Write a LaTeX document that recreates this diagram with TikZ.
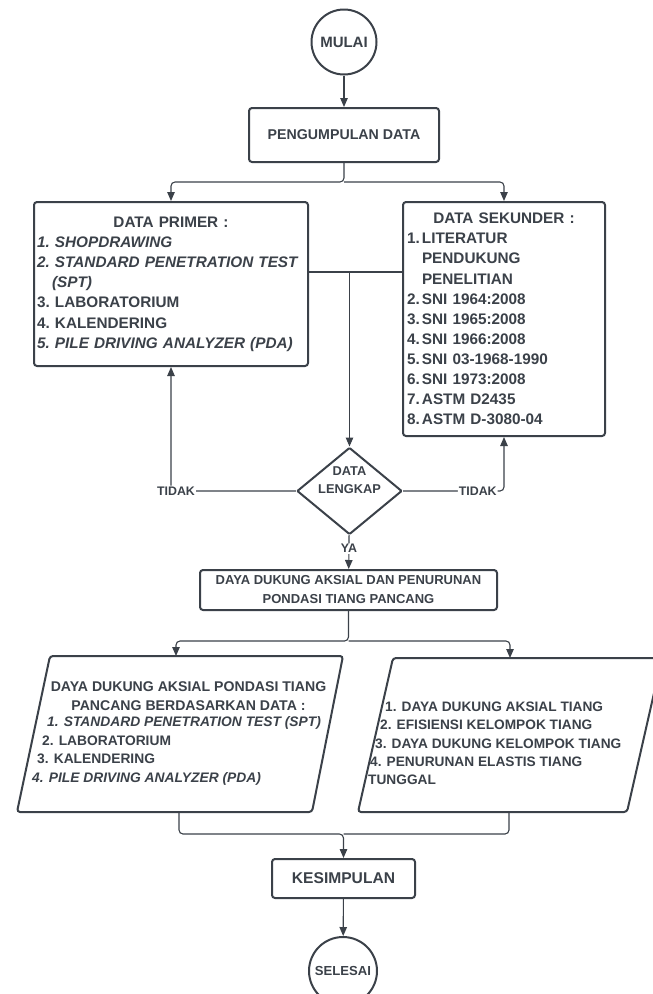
\documentclass[tikz,border=0pt]{standalone}
\usepackage{fontspec}
\setmainfont{Liberation Sans}
\usetikzlibrary{arrows.meta,shapes.geometric}
\definecolor{ink}{HTML}{3B4149}
\newcommand{\fsz}[2]{\fontsize{#1}{#2}\selectfont}
\newcommand{\itm}[3]{\makebox[#1][l]{#2}#3}

\begin{document}
\begin{tikzpicture}[x=1pt, y=-1pt, draw=ink, text=ink, font=\bfseries,
	shp/.style={draw, line width=2pt, rounded corners=3pt, fill=white},
	term/.style={shp, circle, minimum size=#1, inner sep=0pt},
	proc/.style={shp, rectangle, align=center},
	conn/.style={line width=1.1pt, rounded corners=4pt},
	arr/.style={conn, -{Triangle[length=9pt,width=7.5pt]}},
	lbl/.style={fill=white, inner sep=1pt, font=\bfseries\fsz{12.4}{14}}]
	\useasboundingbox (0,0) rectangle (653,994);

	\node[term=65pt, font=\bfseries\fsz{15}{18}] (mulai) at (344,42) {MULAI};
	\node[proc, minimum width=190pt, minimum height=54pt, font=\bfseries\fsz{14.2}{17}] (kumpul) at (344,135) {PENGUMPULAN DATA};
	\node[proc, align=left, text width=268pt, inner xsep=3pt, minimum height=164pt, font=\bfseries\fsz{15.3}{20.2}] (primer) at (171,284)
		{\makebox[\linewidth]{DATA PRIMER :}\\
		 \itm{18pt}{\textit{1.}}{\textit{SHOPDRAWING}}\\
		 \itm{18pt}{\textit{2.}}{\textit{STANDARD PENETRATION TEST}}\\
		 \hspace*{15pt}\textit{(SPT)}\\
		 \itm{18pt}{3.}{LABORATORIUM}\\
		 \itm{18pt}{4.}{KALENDERING}\\
		 \itm{18pt}{\textit{5.}}{\textit{PILE DRIVING ANALYZER (PDA)}}};
	\node[proc, align=left, text width=194pt, inner xsep=4pt, minimum height=234pt, font=\bfseries\fsz{15.3}{20.1}] (sekunder) at (504,319)
		{\makebox[\linewidth]{DATA SEKUNDER :}\\
		 \itm{15pt}{1.}{LITERATUR}\\
		 \hspace*{15pt}PENDUKUNG\\
		 \hspace*{15pt}PENELITIAN\\
		 \itm{15pt}{2.}{SNI 1964:2008}\\
		 \itm{15pt}{3.}{SNI 1965:2008}\\
		 \itm{15pt}{4.}{SNI 1966:2008}\\
		 \itm{15pt}{5.}{SNI 03-1968-1990}\\
		 \itm{15pt}{6.}{SNI 1973:2008}\\
		 \itm{15pt}{7.}{ASTM D2435}\\
		 \itm{15pt}{8.}{ASTM D-3080-04}};
	\node[shp, diamond, rounded corners=1pt, minimum width=105pt, minimum height=87pt, inner sep=0pt] (lengkap) at (349.5,491) {};
	\node[align=center, font=\bfseries\fsz{12.8}{18.5}] (lengkapTeks) at (349.5,480) {DATA\\LENGKAP};
	\node[proc, minimum width=297pt, minimum height=40pt, font=\bfseries\fsz{13}{19}] (daya) at (348.5,590) {DAYA DUKUNG AKSIAL DAN PENURUNAN\\PONDASI TIANG PANCANG};

	\draw[shp] (50,656) -- (343,656) -- (312,812) -- (17,812) -- cycle;
	\draw[shp] (393,658) -- (662,658) -- (627,812) -- (358,812) -- cycle;
	\coordinate (hasilAN) at (176,656);
	\coordinate (hasilAS) at (179,812);
	\coordinate (hasilBN) at (510,658);
	\coordinate (hasilBS) at (509,812);
	\node[align=center, font=\bfseries\fsz{14.1}{18.3}] (hasilAJudul) at (188.5,696) {DAYA DUKUNG AKSIAL PONDASI TIANG\\PANCANG BERDASARKAN DATA :};
	\node[align=left, anchor=west, inner sep=0pt, font=\bfseries\fsz{13.8}{18.6}] (hasilAIsi) at (32,751)
		{\hspace*{15pt}\textit{1. STANDARD PENETRATION TEST (SPT)}\\
		 \hspace*{10pt}2. LABORATORIUM\\
		 \hspace*{5pt}3. KALENDERING\\
		 \textit{4. PILE DRIVING ANALYZER (PDA)}};
	\node[align=left, anchor=west, inner sep=0pt, font=\bfseries\fsz{13.7}{18.3}] (hasilBIsi) at (368,743.5)
		{\hspace*{17pt}1. DAYA DUKUNG AKSIAL TIANG\\
		 \hspace*{12pt}2. EFISIENSI KELOMPOK TIANG\\
		 \hspace*{7pt}3. DAYA DUKUNG KELOMPOK TIANG\\
		 \hspace*{2pt}4. PENURUNAN ELASTIS TIANG\\
		 TUNGGAL};
	\node[proc, minimum width=143pt, minimum height=39pt, font=\bfseries\fsz{15.6}{18}] (simpul) at (343.5,878.5) {KESIMPULAN};
	\node[term=68pt, font=\bfseries\fsz{13.1}{16}] (selesai) at (343,971) {SELESAI};

	\coordinate (cabang1) at (344,182);
	\coordinate (temu1) at (349.5,272);
	\coordinate (cabang2) at (348.5,641);
	\coordinate (temu2) at (343.5,834);

	\draw[arr] (mulai) -- (kumpul);
	\draw[arr] (kumpul) -- (cabang1) -| (primer);
	\draw[arr] (cabang1) -| (sekunder);
	\draw[conn] (primer.east |- temu1) -- (sekunder.west |- temu1);
	\draw[arr] (temu1) -- (lengkap);
	\draw[arr] (lengkap) -| node[lbl, pos=0.5, xshift=5pt] (tidakKiri) {TIDAK} (primer);
	\draw[arr] (lengkap) -| node[lbl, pos=0.37] (tidakKanan) {TIDAK} (sekunder);
	\draw[arr] (lengkap) -- node[lbl, pos=0.4] (ya) {YA} (daya);
	\draw[arr] (daya) -- (cabang2) -| (hasilAN);
	\draw[arr] (cabang2) -| (hasilBN);
	\draw[arr] (hasilAS) |- (temu2) -- (simpul);
	\draw[conn] (hasilBS) |- (temu2);
	\draw[arr] (simpul) -- (selesai);
\end{tikzpicture}
\end{document}
